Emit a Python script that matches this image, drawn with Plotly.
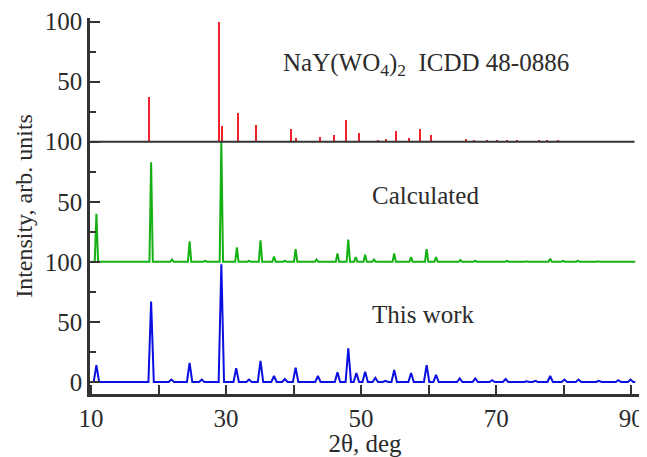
import plotly.graph_objects as go

# ---- data ----
# Experimental pattern ("This work"), peak positions (2θ, deg) and intensities
blue_pos = [10.8, 18.9, 21.9, 24.6, 26.4, 29.3, 31.5, 33.4, 35.1, 37.1, 38.7, 40.3,
            43.6, 46.5, 48.1, 49.3, 50.6, 52.1, 53.6, 54.9, 57.4, 59.7, 61.1, 64.6,
            66.9, 69.4, 71.4, 74.5, 75.8, 78.0, 80.1, 82.2, 85.2, 88.1, 89.9]
blue_int = [14, 67, 2, 16, 2, 98, 11.5, 2, 17.5, 5, 2.5, 12,
            5, 8, 28, 7.5, 8.5, 3.5, 1, 10, 7.5, 14, 6, 3,
            3, 1.5, 2.5, 0.5, 1, 5, 2, 2, 1, 1.5, 2]

# Calculated pattern
green_pos = [10.8, 18.9, 22.0, 24.6, 26.9, 29.3, 31.6, 33.4, 35.1, 37.1, 38.7, 40.3,
             43.4, 46.5, 48.1, 49.2, 50.6, 51.9, 54.9, 57.4, 59.7, 61.1, 64.7, 66.9,
             69.4, 71.6, 74.5, 78.0, 79.9, 82.1, 85.1, 87.9]
green_int = [40, 83, 2, 17, 1, 100, 12, 1, 18, 4.5, 1, 10.5,
             2, 7, 18.5, 4, 6, 2, 7, 4, 10.5, 4, 1.5, 1,
             0.5, 1, 0.5, 2.5, 1, 1, 0.5, 0.5]

# ICDD 48-0886 stick pattern
red_pos = [18.55, 28.9, 29.36, 31.78, 34.5, 39.6, 40.4, 43.9, 46.0, 47.7, 49.7, 52.5,
           53.7, 55.1, 57.1, 58.7, 60.3, 65.5, 66.7, 68.6, 70.1, 71.6, 73.1, 76.3,
           77.5, 79.1]
red_int = [37, 100, 13, 24, 14, 11, 3.3, 4, 6, 18, 7, 1,
           2, 9, 3, 11, 6, 2, 1, 1, 1, 1, 1, 1,
           1, 1]

scan_start = 10.0
scan_end = 90.6

offsets = [0, 100, 200]  # vertical stacking of the three patterns
y_tickvals = [0, 50, 100, 150, 200, 250, 300]
y_ticktext = ["0", "50", "100", "50", "100", "50", "100"]
x_tickvals = [10, 20, 30, 40, 50, 60, 70, 80, 90]
x_ticktext = ["10", "", "30", "", "50", "", "70", "", "90"]


def profile(pos, ints, hw, offset):
    xs, ys = [scan_start], [offset]
    for p, h in zip(pos, ints):
        xs += [p - hw, p, p + hw]
        ys += [offset, offset + h, offset]
    xs.append(scan_end)
    ys.append(offset)
    return xs, ys


FONT = "Liberation Serif, Times New Roman, serif"
TXT = "#2b2b2b"
AX = "#333333"

fig = go.Figure()

bx, by = profile(blue_pos, blue_int, 0.4, offsets[0])
fig.add_trace(go.Scatter(x=bx, y=by, mode="lines",
                         line=dict(color="#0a10e0", width=2), hoverinfo="skip"))

gx, gy = profile(green_pos, green_int, 0.25, offsets[1])
fig.add_trace(go.Scatter(x=gx, y=gy, mode="lines",
                         line=dict(color="#14b014", width=2), hoverinfo="skip"))

fig.add_trace(go.Bar(x=red_pos, y=red_int, base=offsets[2], width=0.3,
                     marker=dict(color="#f0222c", line=dict(width=0)),
                     hoverinfo="skip"))

# baseline of the stick pattern
fig.add_shape(type="line", xref="x domain", yref="y", x0=0, x1=0.99,
              y0=offsets[2], y1=offsets[2], line=dict(color=AX, width=2))

fig.add_annotation(x=59.6, y=264, xref="x", yref="y", showarrow=False,
                   text="NaY(WO<sub>4</sub>)<sub>2</sub>&nbsp; ICDD 48-0886",
                   font=dict(family=FONT, size=25, color=TXT))
fig.add_annotation(x=59.5, y=155, xref="x", yref="y", showarrow=False,
                   text="Calculated", font=dict(family=FONT, size=25, color=TXT))
fig.add_annotation(x=59.3, y=56, xref="x", yref="y", showarrow=False,
                   text="This work", font=dict(family=FONT, size=25, color=TXT))

# the page body has an 8px default margin, so the figure is sized to fit
fig.update_layout(
    width=639, height=449,
    margin=dict(l=82, r=7, t=10, b=63),
    paper_bgcolor="white", plot_bgcolor="white",
    showlegend=False,
    font=dict(family=FONT, size=25, color=TXT),
    bargap=0,
    xaxis=dict(
        range=[9.85, 91.3], showgrid=False, zeroline=False, automargin=False,
        showline=True, linewidth=2.5, linecolor=AX,
        ticks="inside", ticklen=9, tickwidth=2, tickcolor=AX,
        tickmode="array", tickvals=x_tickvals, ticktext=x_ticktext,
        tickfont=dict(family=FONT, size=25, color=TXT),
        title=dict(text="2θ, deg", font=dict(family=FONT, size=25, color=TXT),
                   standoff=0),
    ),
    yaxis=dict(
        range=[-10, 303], showgrid=False, zeroline=False, automargin=False,
        showline=True, linewidth=2.5, linecolor=AX,
        ticks="inside", ticklen=10, tickwidth=2, tickcolor=AX,
        tickmode="array", tickvals=y_tickvals, ticktext=y_ticktext,
        tickfont=dict(family=FONT, size=25, color=TXT),
        ticklabelstandoff=0,
        minor=dict(tickvals=[25, 75, 125, 175, 225, 275], ticks="inside",
                   ticklen=6, tickwidth=2, tickcolor=AX),
        title=dict(text="Intensity, arb. units",
                   font=dict(family=FONT, size=24, color=TXT), standoff=6),
    ),
)

fig.write_html("out.html")
